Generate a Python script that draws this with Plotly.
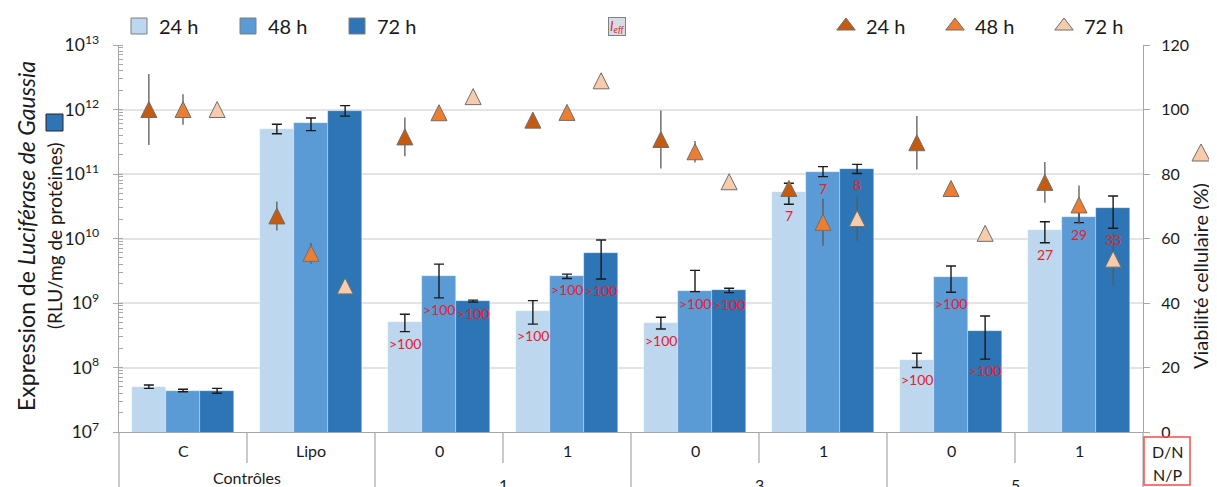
import plotly.graph_objects as go
import numpy as np

# ---------------- data ----------------
groups_inner = ["C", "Lipo", "0", "1", "0", "1", "0", "1"]
groups_outer = ["Contrôles", "1", "3", "5"]
outer_span = 2
series_names = ["24 h", "48 h", "72 h"]

# Luciferase expression (RLU/mg proteins)
lum_24 = [5.0e7, 5.0e11, 5.1e8, 7.6e8, 4.95e8, 5.2e10, 1.31e8, 1.36e10]
lum_24_hi = [5.36e7, 5.9e11, 6.7e8, 1.09e9, 6.0e8, 7.2e10, 1.66e8, 1.82e10]
lum_24_lo = [4.75e7, 4.2e11, 3.6e8, 4.7e8, 3.95e8, 3.4e10, 1.0e8, 8.6e9]

lum_48 = [4.4e7, 6.1e11, 2.6e9, 2.6e9, 1.53e9, 1.09e11, 2.56e9, 2.13e10]
lum_48_hi = [4.6e7, 7.4e11, 4.0e9, 2.8e9, 3.2e9, 1.30e11, 3.75e9, 2.6e10]
lum_48_lo = [4.2e7, 4.7e11, 1.2e9, 2.4e9, 1.5e9, 9.1e10, 1.47e9, 1.76e10]

lum_72 = [4.3e7, 9.5e11, 1.07e9, 6.0e9, 1.57e9, 1.21e11, 3.72e8, 2.94e10]
lum_72_hi = [4.75e7, 1.15e12, 1.11e9, 9.5e9, 1.69e9, 1.41e11, 6.3e8, 4.57e10]
lum_72_lo = [3.98e7, 7.9e11, 1.03e9, 2.36e9, 1.45e9, 1.02e11, 1.35e8, 1.44e10]

# Cell viability (%)
via_24 = [100, 67, 91.5, 96.7, 90.7, 75.5, 89.7, 77.4]
via_24_err = [11, 4.5, 6, 1.5, 9, 2, 8.3, 6.3]
via_48 = [100, 55.4, 99, 99.1, 86.9, 65, 75.5, 70.4]
via_48_err = [4.7, 3.2, 0, 1, 3.3, 7.3, 0, 6]
via_72 = [100, 45.3, 104, 108.9, 77.6, 66.2, 61.6, 53.6]
via_72_err = [0, 0, 0, 0, 0, 7, 0, 8.1]

# Transfection efficiency labels
eff_24 = ["", "", ">100", ">100", ">100", "7", ">100", "27"]
eff_48 = ["", "", ">100", ">100", ">100", "7", ">100", "29"]
eff_72 = ["", "", ">100", ">100", ">100", "8", ">100", "33"]

# ---------------- style ----------------
FONT = "Lato"
PAGE_OFF = 8                      # default body margin of the html page
W, H = 1217 - PAGE_OFF, 487 - PAGE_OFF
PL, PR, PT, PB = 119, 1143, 45, 432   # plot area in page pixels
ML, MT = PL - PAGE_OFF, PT - PAGE_OFF
MR, MB = W - (PR - PAGE_OFF), H - (PB - PAGE_OFF)
PW, PH = PR - PL, PB - PT
bar_colors = ["#BDD7EE", "#5B9BD5", "#2E75B6"]
tri_colors = ["#C55A11", "#ED7D31", "#F8CBAD"]
AXC = "#A6A6A6"
RED = "#E8202A"
TXT = "#1A1A1A"
BW = 0.8 / 3
n = len(groups_inner)


def px_x(p):
    return (p - PL) / PW


def px_y(p):
    return (PB - p) / PH


lums = [(lum_24, lum_24_hi, lum_24_lo), (lum_48, lum_48_hi, lum_48_lo), (lum_72, lum_72_hi, lum_72_lo)]
vias = [(via_24, via_24_err), (via_48, via_48_err), (via_72, via_72_err)]
effs = [eff_24, eff_48, eff_72]

fig = go.Figure()

for k, (v, hi, lo) in enumerate(lums):
    v = np.array(v); hi = np.array(hi); lo = np.array(lo)
    xs = np.arange(n) + (k - 1) * BW
    fig.add_trace(go.Bar(
        x=xs, y=v, width=BW, name=series_names[k], showlegend=False,
        marker=dict(color=bar_colors[k], line=dict(width=0.6, color="rgba(255,255,255,0.5)")),
        error_y=dict(type="data", symmetric=False, array=hi - v, arrayminus=v - lo,
                     color=TXT, thickness=1.4, width=5),
    ))
    fig.add_trace(go.Scatter(
        x=[None], y=[None], mode="markers", name=series_names[k], legend="legend",
        marker=dict(symbol="square", size=18, color=bar_colors[k], line=dict(color="#7F7F7F", width=1)),
    ))
    for i in range(n):
        if effs[k][i]:
            fig.add_annotation(x=xs[i], y=np.log10(lo[i]), xref="x", yref="y", text=effs[k][i],
                               showarrow=False, xanchor="center", yanchor="top", yshift=-1,
                               font=dict(family=FONT, size=14, color=RED))

for k, (v, e) in enumerate(vias):
    xs = np.arange(n) + (k - 1) * BW
    fig.add_trace(go.Scatter(
        x=xs, y=v, yaxis="y2", mode="markers", name=series_names[k], showlegend=False,
        marker=dict(symbol="arrow-down", angle=180, standoff=8, size=16, color=tri_colors[k],
                    line=dict(color="#6E6E6E", width=1)),
        error_y=dict(type="data", array=e, color="#5A5A5A", thickness=1.3, width=0),
    ))
    fig.add_trace(go.Scatter(
        x=[None], y=[None], yaxis="y2", mode="markers", name=series_names[k], legend="legend2",
        marker=dict(symbol="triangle-up", size=18, color=tri_colors[k], line=dict(color="#6E6E6E", width=1)),
    ))


def note(x, y, text, size=15, color=TXT, angle=0, **kw):
    fig.add_annotation(x=x, y=y, xref="paper", yref="paper", text=text, showarrow=False,
                       xanchor="center", yanchor="middle", textangle=angle,
                       font=dict(family=FONT, size=size, color=color), **kw)


# category labels
for i, lab in enumerate(groups_inner):
    note((i + 0.5) / n, px_y(450), lab, size=16)
for j, lab in enumerate(groups_outer):
    yy = px_y(477) if j == 0 else px_y(484)
    note((j * outer_span + outer_span / 2) / n, yy, lab, size=16)

# separators
for b in range(n + 1):
    full = (b % outer_span == 0)
    fig.add_shape(type="line", xref="paper", yref="paper", x0=b / n, x1=b / n,
                  y0=0, y1=px_y(500) if full else px_y(463), line=dict(color=AXC, width=1.2))

# D/N N/P box
fig.add_shape(type="rect", xref="paper", yref="paper", x0=px_x(1144), x1=px_x(1190),
              y0=px_y(437), y1=px_y(485), line=dict(color="#FF4A4A", width=1.5))
note(px_x(1167), px_y(451), "D/N", size=16)
note(px_x(1167), px_y(474), "N/P", size=16)

# left title
note(px_x(26), px_y(236), "Expression de <i>Luciférase de Gaussia</i>", size=23, angle=-90)
note(px_x(54), px_y(236), "(RLU/mg de protéines)", size=19, angle=-90)
fig.add_shape(type="rect", xref="paper", yref="paper", x0=px_x(46), x1=px_x(63), y0=px_y(131), y1=px_y(114),
              fillcolor=bar_colors[2], line=dict(color="#262626", width=1))

# right title
note(px_x(1200), px_y(276), "Viabilité cellulaire (%)", size=20, angle=-90)
fig.add_shape(type="path", xref="paper", yref="paper",
              path=f"M{px_x(1201)},{px_y(144)} L{px_x(1210)},{px_y(161)} L{px_x(1192)},{px_y(161)} Z",
              fillcolor=tri_colors[2], line=dict(color="#6E6E6E", width=1))

# I_eff box
note(px_x(617), px_y(26), "<i>I<sub>eff</sub></i>", size=13, color=RED,
     bgcolor="#D6DCE4", bordercolor="#7F7F7F", borderwidth=1, borderpad=0, width=16, height=17)

fig.update_layout(
    width=W, height=H, margin=dict(l=ML, r=MR, t=MT, b=MB, autoexpand=False),
    paper_bgcolor="white", plot_bgcolor="white",
    font=dict(family=FONT, size=15, color=TXT),
    bargap=0, barmode="overlay",
    xaxis=dict(range=[-0.5, n - 0.5], showticklabels=False, showgrid=False, zeroline=False,
               showline=True, linecolor=AXC, linewidth=1.2, ticks="", automargin=False),
    yaxis=dict(type="log", range=[7, 13], dtick=1, exponentformat="power", automargin=False,
               showgrid=True, gridcolor="#E4E4E4", gridwidth=1.5, zeroline=False,
               showline=True, linecolor=AXC, linewidth=1.2, ticks="outside", ticklen=5, tickcolor=AXC,
               minor=dict(ticks="inside", ticklen=4, tickcolor=AXC, dtick="D1", showgrid=False),
               tickfont=dict(family=FONT, size=14), ticklabelstandoff=11),
    yaxis2=dict(overlaying="y", side="right", range=[0, 120], dtick=20, showgrid=False, zeroline=False,
                showline=True, linecolor=AXC, linewidth=1.2, ticks="outside", ticklen=6, tickcolor=AXC,
                tickfont=dict(family=FONT, size=16), automargin=False, ticklabelstandoff=8),
    legend=dict(orientation="h", xref="paper", yref="paper", x=px_x(119), y=px_y(26),
                xanchor="left", yanchor="middle", font=dict(family=FONT, size=20, color=TXT),
                itemsizing="trace", entrywidth=64, bgcolor="rgba(0,0,0,0)"),
    legend2=dict(orientation="h", xref="paper", yref="paper", x=px_x(826), y=px_y(26),
                 xanchor="left", yanchor="middle", font=dict(family=FONT, size=20, color=TXT),
                 itemsizing="trace", entrywidth=64, bgcolor="rgba(0,0,0,0)"),
)

fig.write_html("out.html")
